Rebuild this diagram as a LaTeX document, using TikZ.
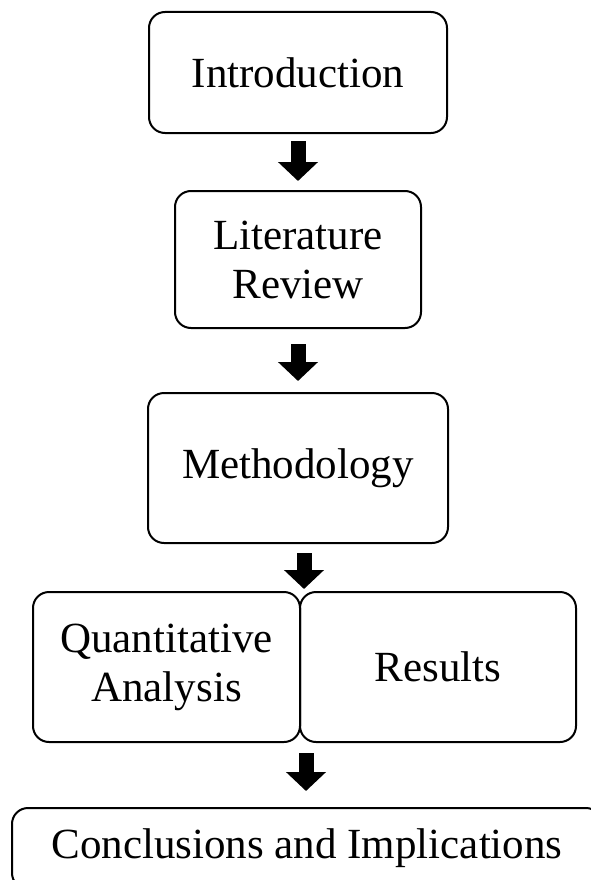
\documentclass[tikz,border=0pt]{standalone}
\usepackage{fontspec}
\setmainfont{Liberation Serif}
\usetikzlibrary{arrows.meta,positioning}

\tikzset{
  stagebox/.style={draw, line width=2pt, rounded corners=16pt, align=center, inner sep=0pt},
  blockarrow/.style={line width=15pt, -{Triangle[length=19pt,width=39pt]}},
}

\begin{document}
\begin{tikzpicture}[x=1pt,y=-1pt,font=\fontsize{43}{49}\selectfont]
\useasboundingbox (0,0) rectangle (590,880);

% stages of the study, top to bottom
\node[stagebox, minimum width=298pt, minimum height=121pt] (intro) at (298,72.5) {Introduction};
\node[stagebox, minimum width=246pt, minimum height=137pt] (litrev) at (298,259.5) {Literature\\Review};
\node[stagebox, minimum width=300pt, minimum height=150pt] (method) at (298,468) {Methodology};
\node[stagebox, minimum width=267pt, minimum height=150pt] (quant) at (166.5,667) {Quantitative\\Analysis};
\node[stagebox, minimum width=276pt, minimum height=150pt, right=-2pt of quant] (results) {Results};
\node[stagebox, minimum width=590pt, minimum height=81pt] (concl) at (307,848.5) {Conclusions and Implications};

% block arrows between the stages
\draw[blockarrow, shorten <=7pt, shorten >=9pt] (intro) -- (litrev);
\draw[blockarrow, shorten <=15pt, shorten >=11pt] (litrev) -- (method);
\draw[blockarrow, shorten <=9pt, shorten >=2pt] ([xshift=3pt]method.south -| quant.north east) -- ([xshift=3pt]quant.north east);
\draw[blockarrow, shorten <=10pt, shorten >=16pt] ([xshift=5pt]quant.south east) -- ([xshift=5pt]quant.south east |- concl.north);

\end{tikzpicture}
\end{document}
